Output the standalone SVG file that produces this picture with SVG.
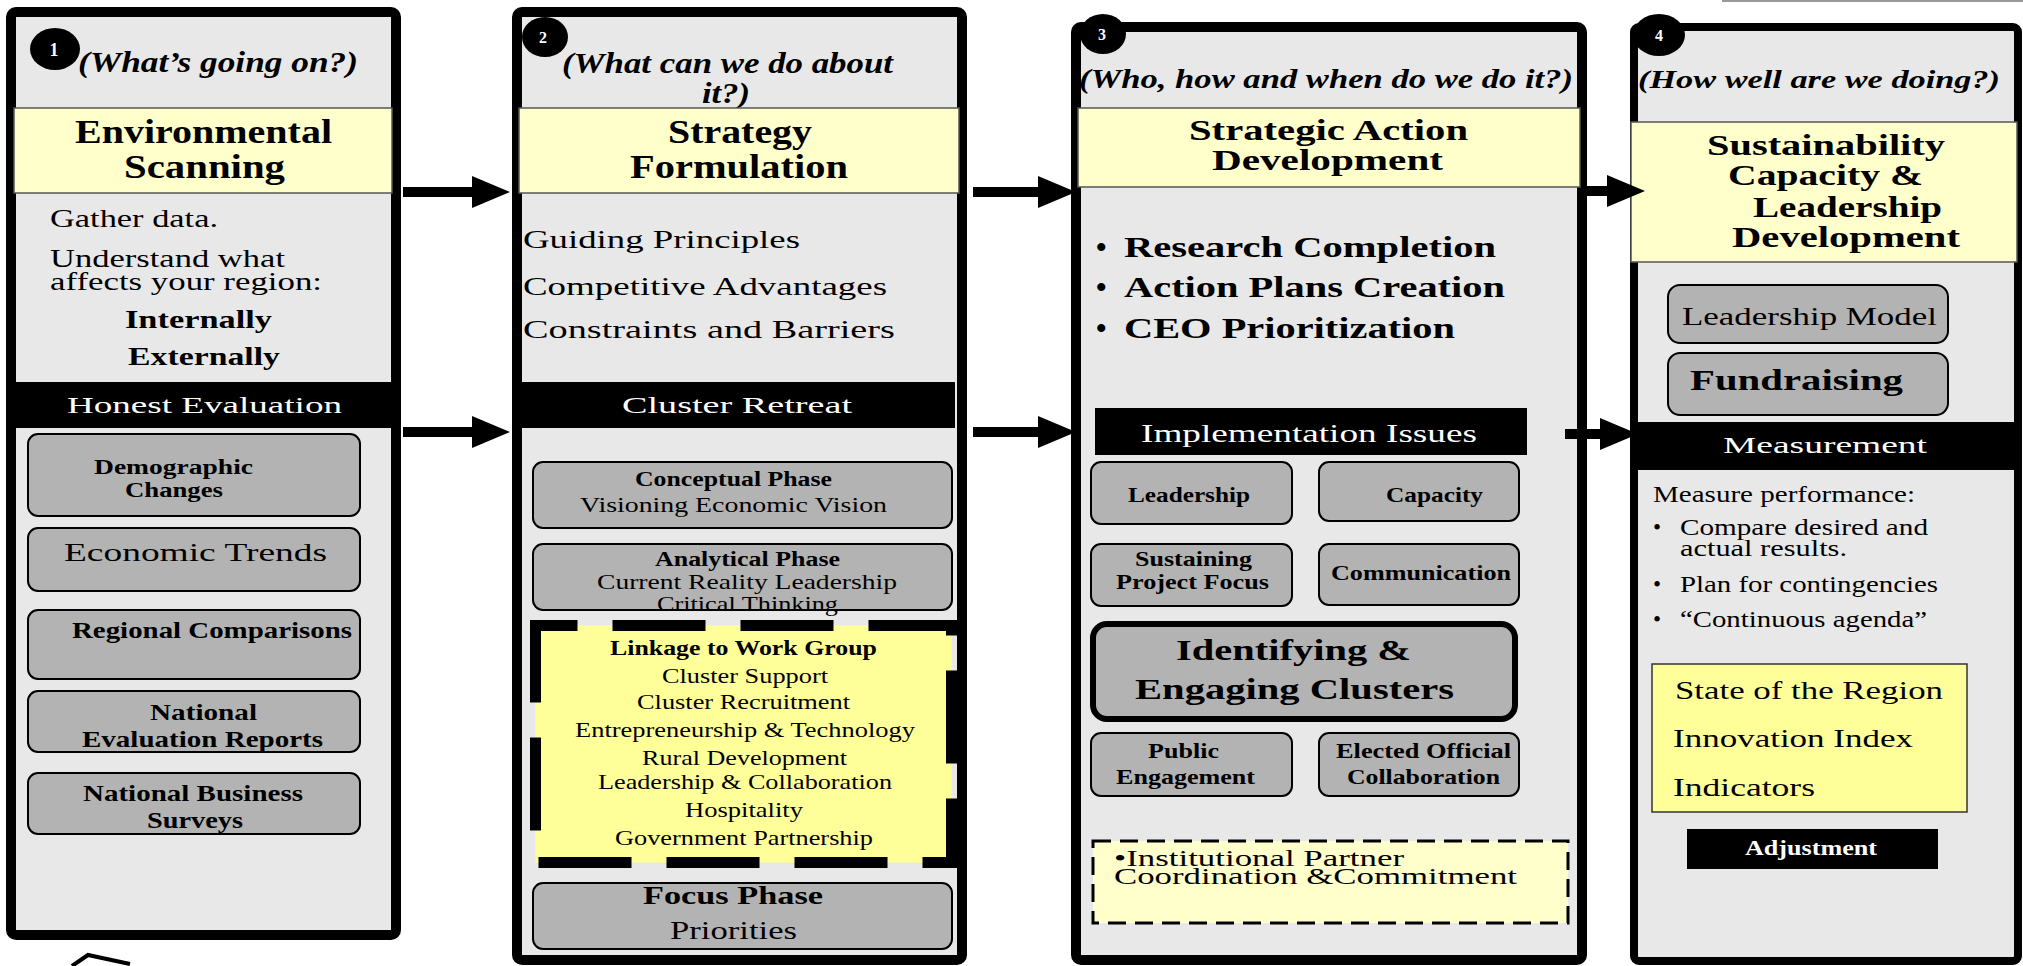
<svg xmlns="http://www.w3.org/2000/svg" width="2023" height="966" viewBox="0 0 2023 966">
<defs>
<style>
text{font-family:"Liberation Serif","Times New Roman",serif;fill:#000}
.b{font-weight:bold}
.i{font-style:italic}
.w{fill:#fff}
.m{text-anchor:middle}
.panel{fill:#e8e8e8;stroke:#000;stroke-width:10}
.band{fill:#ffffcc;stroke:#555;stroke-width:1.5}
.bar{fill:#000}
.box{fill:#b3b3b3;stroke:#000;stroke-width:2}
.conn line{stroke:#000;stroke-width:10}
</style>
<marker id="ah" markerUnits="userSpaceOnUse" markerWidth="40" markerHeight="34" refX="0" refY="16" orient="auto"><path d="M0,0 L38,16 L0,32 Z" fill="#000"/></marker>
</defs>
<rect width="2023" height="966" fill="#fff"/>
<line x1="1722" y1="1" x2="2023" y2="1" stroke="#999" stroke-width="2"/>
<path d="M72,966 L88,955 L130,964" fill="none" stroke="#000" stroke-width="4"/>

<g id="panel1">
<rect class="panel" x="11" y="12" width="385" height="923" rx="5"/>
<ellipse cx="55" cy="49" rx="25" ry="21"/>
<text class="b w m" x="54" y="56" font-size="18">1</text>
<text class="b i" x="78" y="72" font-size="30" textLength="280" lengthAdjust="spacingAndGlyphs">(What’s going on?)</text>
<rect class="band" x="14" y="108" width="378" height="85"/>
<text class="b" x="75" y="143" font-size="33" textLength="257" lengthAdjust="spacingAndGlyphs">Environmental</text>
<text class="b" x="124" y="178" font-size="33" textLength="161" lengthAdjust="spacingAndGlyphs">Scanning</text>
<text x="50" y="227" font-size="25" textLength="168" lengthAdjust="spacingAndGlyphs">Gather data.</text>
<text x="50" y="267" font-size="25" textLength="235" lengthAdjust="spacingAndGlyphs">Understand what</text>
<text x="50" y="290" font-size="25" textLength="272" lengthAdjust="spacingAndGlyphs">affects your region:</text>
<text class="b" x="125" y="328" font-size="26" textLength="147" lengthAdjust="spacingAndGlyphs">Internally</text>
<text class="b" x="128" y="365" font-size="26" textLength="152" lengthAdjust="spacingAndGlyphs">Externally</text>
<rect class="bar" x="16" y="382" width="375" height="46"/>
<text class="w" x="67" y="413" font-size="24" textLength="275" lengthAdjust="spacingAndGlyphs">Honest Evaluation</text>
<g id="demographic">
<rect class="box" x="28" y="434" width="332" height="82" rx="10"/>
<text class="b" x="94" y="474" font-size="20" textLength="159" lengthAdjust="spacingAndGlyphs">Demographic</text>
<text class="b" x="125" y="497" font-size="20" textLength="98" lengthAdjust="spacingAndGlyphs">Changes</text>
</g>
<g id="economic">
<rect class="box" x="28" y="528" width="332" height="63" rx="10"/>
<text x="64" y="561" font-size="26" textLength="263" lengthAdjust="spacingAndGlyphs">Economic Trends</text>
</g>
<g id="regional">
<rect class="box" x="28" y="610" width="332" height="69" rx="10"/>
<text class="b" x="72" y="638" font-size="23" textLength="280" lengthAdjust="spacingAndGlyphs">Regional Comparisons</text>
</g>
<g id="nationalEval">
<rect class="box" x="28" y="691" width="332" height="61" rx="10"/>
<text class="b" x="150" y="720" font-size="23" textLength="107" lengthAdjust="spacingAndGlyphs">National</text>
<text class="b" x="82" y="747" font-size="23" textLength="241" lengthAdjust="spacingAndGlyphs">Evaluation Reports</text>
</g>
<g id="nationalBiz">
<rect class="box" x="28" y="773" width="332" height="61" rx="10"/>
<text class="b" x="83" y="801" font-size="23" textLength="220" lengthAdjust="spacingAndGlyphs">National Business</text>
<text class="b" x="147" y="828" font-size="23" textLength="96" lengthAdjust="spacingAndGlyphs">Surveys</text>
</g>
</g>

<g id="panel2">
<rect class="panel" x="517" y="12" width="445" height="948" rx="5"/>
<ellipse cx="545" cy="37" rx="23" ry="20"/>
<text class="b w m" x="543" y="43" font-size="16">2</text>
<text class="b i" x="562" y="73" font-size="30" textLength="331" lengthAdjust="spacingAndGlyphs">(What can we do about</text>
<text class="b i" x="702" y="103" font-size="30" textLength="48" lengthAdjust="spacingAndGlyphs">it?)</text>
<rect class="band" x="519" y="108" width="440" height="85"/>
<text class="b" x="668" y="143" font-size="33" textLength="144" lengthAdjust="spacingAndGlyphs">Strategy</text>
<text class="b" x="630" y="178" font-size="33" textLength="218" lengthAdjust="spacingAndGlyphs">Formulation</text>
<text x="523" y="248" font-size="26" textLength="277" lengthAdjust="spacingAndGlyphs">Guiding Principles</text>
<text x="523" y="295" font-size="26" textLength="364" lengthAdjust="spacingAndGlyphs">Competitive Advantages</text>
<text x="523" y="338" font-size="26" textLength="372" lengthAdjust="spacingAndGlyphs">Constraints and Barriers</text>
<rect class="bar" x="522" y="382" width="433" height="46"/>
<text class="w" x="622" y="413" font-size="24" textLength="230" lengthAdjust="spacingAndGlyphs">Cluster Retreat</text>
<g id="conceptual">
<rect class="box" x="533" y="462" width="419" height="66" rx="10"/>
<text class="b" x="635" y="486" font-size="20" textLength="197" lengthAdjust="spacingAndGlyphs">Conceptual Phase</text>
<text x="580" y="512" font-size="22" textLength="307" lengthAdjust="spacingAndGlyphs">Visioning   Economic Vision</text>
</g>
<g id="analytical">
<rect class="box" x="533" y="544" width="419" height="66" rx="10"/>
<text class="b" x="655" y="566" font-size="20" textLength="185" lengthAdjust="spacingAndGlyphs">Analytical Phase</text>
<text x="597" y="589" font-size="22" textLength="300" lengthAdjust="spacingAndGlyphs">Current Reality   Leadership</text>
<text x="657" y="611" font-size="22" textLength="181" lengthAdjust="spacingAndGlyphs">Critical Thinking</text>
</g>
<g id="linkage">
<rect x="535.5" y="625.5" width="416" height="237" fill="#ffff99" stroke="#000" stroke-width="11" stroke-dasharray="93 35" stroke-dashoffset="51"/>
<text class="b" x="610" y="655" font-size="20" textLength="267" lengthAdjust="spacingAndGlyphs">Linkage to Work Group</text>
<text x="662" y="683" font-size="22" textLength="166" lengthAdjust="spacingAndGlyphs">Cluster Support</text>
<text x="637" y="709" font-size="22" textLength="213" lengthAdjust="spacingAndGlyphs">Cluster Recruitment</text>
<text x="575" y="737" font-size="22" textLength="340" lengthAdjust="spacingAndGlyphs">Entrepreneurship &amp; Technology</text>
<text x="642" y="765" font-size="22" textLength="205" lengthAdjust="spacingAndGlyphs">Rural Development</text>
<text x="598" y="789" font-size="22" textLength="294" lengthAdjust="spacingAndGlyphs">Leadership &amp; Collaboration</text>
<text x="685" y="817" font-size="22" textLength="118" lengthAdjust="spacingAndGlyphs">Hospitality</text>
<text x="615" y="845" font-size="22" textLength="258" lengthAdjust="spacingAndGlyphs">Government Partnership</text>
</g>
<g id="focus">
<rect class="box" x="533" y="883" width="419" height="66" rx="10"/>
<text class="b" x="643" y="904" font-size="26" textLength="180" lengthAdjust="spacingAndGlyphs">Focus Phase</text>
<text x="670" y="939" font-size="26" textLength="127" lengthAdjust="spacingAndGlyphs">Priorities</text>
</g>
</g>

<g id="panel3">
<rect class="panel" x="1076" y="27" width="506" height="933" rx="5"/>
<ellipse cx="1103" cy="34" rx="23" ry="20"/>
<text class="b w m" x="1102" y="40" font-size="16">3</text>
<text class="b i" x="1079" y="88" font-size="27" textLength="494" lengthAdjust="spacingAndGlyphs">(Who, how and when do we do it?)</text>
<rect class="band" x="1078" y="108" width="502" height="79"/>
<text class="b" x="1189" y="140" font-size="29" textLength="279" lengthAdjust="spacingAndGlyphs">Strategic Action</text>
<text class="b" x="1212" y="170" font-size="29" textLength="231" lengthAdjust="spacingAndGlyphs">Development</text>
<text class="b" x="1096" y="257" font-size="30">•</text>
<text class="b" x="1124" y="257" font-size="30" textLength="372" lengthAdjust="spacingAndGlyphs">Research Completion</text>
<text class="b" x="1096" y="297" font-size="30">•</text>
<text class="b" x="1124" y="297" font-size="30" textLength="381" lengthAdjust="spacingAndGlyphs">Action Plans Creation</text>
<text class="b" x="1096" y="338" font-size="30">•</text>
<text class="b" x="1124" y="338" font-size="30" textLength="331" lengthAdjust="spacingAndGlyphs">CEO Prioritization</text>
<rect class="bar" x="1095" y="408" width="432" height="47"/>
<text class="w" x="1141" y="442" font-size="26" textLength="336" lengthAdjust="spacingAndGlyphs">Implementation Issues</text>
<g id="leadership3">
<rect class="box" x="1091" y="462" width="201" height="62" rx="10"/>
<text class="b" x="1128" y="502" font-size="21" textLength="122" lengthAdjust="spacingAndGlyphs">Leadership</text>
</g>
<g id="capacity">
<rect class="box" x="1319" y="462" width="200" height="59" rx="10"/>
<text class="b" x="1386" y="502" font-size="21" textLength="97" lengthAdjust="spacingAndGlyphs">Capacity</text>
</g>
<g id="sustaining">
<rect class="box" x="1091" y="544" width="201" height="62" rx="10"/>
<text class="b" x="1135" y="566" font-size="21" textLength="117" lengthAdjust="spacingAndGlyphs">Sustaining</text>
<text class="b" x="1116" y="589" font-size="21" textLength="153" lengthAdjust="spacingAndGlyphs">Project Focus</text>
</g>
<g id="communication">
<rect class="box" x="1319" y="544" width="200" height="61" rx="10"/>
<text class="b" x="1331" y="580" font-size="21" textLength="180" lengthAdjust="spacingAndGlyphs">Communication</text>
</g>
<g id="identifying">
<rect x="1093" y="624" width="422" height="95" rx="14" fill="#b3b3b3" stroke="#000" stroke-width="6"/>
<text class="b" x="1176" y="660" font-size="30" textLength="235" lengthAdjust="spacingAndGlyphs">Identifying &amp;</text>
<text class="b" x="1135" y="699" font-size="30" textLength="319" lengthAdjust="spacingAndGlyphs">Engaging Clusters</text>
</g>
<g id="public">
<rect class="box" x="1091" y="733" width="201" height="63" rx="10"/>
<text class="b" x="1148" y="758" font-size="21" textLength="71" lengthAdjust="spacingAndGlyphs">Public</text>
<text class="b" x="1116" y="784" font-size="21" textLength="139" lengthAdjust="spacingAndGlyphs">Engagement</text>
</g>
<g id="elected">
<rect class="box" x="1319" y="733" width="200" height="63" rx="10"/>
<text class="b" x="1336" y="758" font-size="21" textLength="175" lengthAdjust="spacingAndGlyphs">Elected Official</text>
<text class="b" x="1347" y="784" font-size="21" textLength="153" lengthAdjust="spacingAndGlyphs">Collaboration</text>
</g>
<g id="institutional">
<rect x="1093" y="841" width="475" height="82" fill="#ffffcc" stroke="#000" stroke-width="3" stroke-dasharray="18 9"/>
<text x="1114" y="866" font-size="24" textLength="290" lengthAdjust="spacingAndGlyphs">•Institutional Partner</text>
<text x="1114" y="884" font-size="24" textLength="403" lengthAdjust="spacingAndGlyphs">Coordination &amp;Commitment</text>
</g>
</g>

<g id="panel4">
<rect class="panel" x="1634" y="27" width="384" height="934" rx="5" style="stroke-width:8"/>
<ellipse cx="1659" cy="35" rx="26" ry="21"/>
<text class="b w m" x="1659" y="41" font-size="16">4</text>
<text class="b i" x="1638" y="88" font-size="26" textLength="362" lengthAdjust="spacingAndGlyphs">(How well are we doing?)</text>
<rect class="band" x="1631" y="122" width="386" height="140"/>
<text class="b" x="1707" y="155" font-size="29" textLength="238" lengthAdjust="spacingAndGlyphs">Sustainability</text>
<text class="b" x="1728" y="185" font-size="29" textLength="195" lengthAdjust="spacingAndGlyphs">Capacity &amp;</text>
<text class="b" x="1753" y="217" font-size="29" textLength="189" lengthAdjust="spacingAndGlyphs">Leadership</text>
<text class="b" x="1732" y="247" font-size="29" textLength="228" lengthAdjust="spacingAndGlyphs">Development</text>
<g id="leadershipModel">
<rect class="box" x="1668" y="285" width="280" height="58" rx="12"/>
<text x="1682" y="325" font-size="25" textLength="255" lengthAdjust="spacingAndGlyphs">Leadership Model</text>
</g>
<g id="fundraising">
<rect class="box" x="1668" y="353" width="280" height="62" rx="12"/>
<text class="b" x="1690" y="390" font-size="30" textLength="213" lengthAdjust="spacingAndGlyphs">Fundraising</text>
</g>
<rect class="bar" x="1630" y="422" width="387" height="48"/>
<text class="w" x="1723" y="453" font-size="24" textLength="204" lengthAdjust="spacingAndGlyphs">Measurement</text>
<text x="1653" y="502" font-size="23" textLength="262" lengthAdjust="spacingAndGlyphs">Measure performance:</text>
<text x="1653" y="535" font-size="23">•</text>
<text x="1680" y="535" font-size="23" textLength="248" lengthAdjust="spacingAndGlyphs">Compare desired and</text>
<text x="1680" y="556" font-size="23" textLength="167" lengthAdjust="spacingAndGlyphs">actual  results.</text>
<text x="1653" y="592" font-size="23">•</text>
<text x="1680" y="592" font-size="23" textLength="258" lengthAdjust="spacingAndGlyphs">Plan for contingencies</text>
<text x="1653" y="627" font-size="23">•</text>
<text x="1680" y="627" font-size="23" textLength="247" lengthAdjust="spacingAndGlyphs">“Continuous agenda”</text>
<g id="stateRegion">
<rect x="1652" y="664" width="315" height="148" fill="#ffff99" stroke="#333" stroke-width="1.5"/>
<text x="1675" y="699" font-size="26" textLength="268" lengthAdjust="spacingAndGlyphs">State of the Region</text>
<text x="1673" y="747" font-size="26" textLength="240" lengthAdjust="spacingAndGlyphs">Innovation Index</text>
<text x="1673" y="796" font-size="26" textLength="142" lengthAdjust="spacingAndGlyphs">Indicators</text>
</g>
<g id="adjustment">
<rect class="bar" x="1687" y="829" width="251" height="40"/>
<text class="b w" x="1745" y="855" font-size="20" textLength="132" lengthAdjust="spacingAndGlyphs">Adjustment</text>
</g>
</g>

<g id="connectors" class="conn">
<line x1="403" y1="192" x2="472" y2="192" marker-end="url(#ah)"/>
<line x1="403" y1="432" x2="472" y2="432" marker-end="url(#ah)"/>
<line x1="973" y1="192" x2="1038" y2="192" marker-end="url(#ah)"/>
<line x1="973" y1="432" x2="1038" y2="432" marker-end="url(#ah)"/>
<line x1="1587" y1="191" x2="1607" y2="191" marker-end="url(#ah)"/>
<line x1="1565" y1="434" x2="1600" y2="434" marker-end="url(#ah)"/>
</g>
</svg>
